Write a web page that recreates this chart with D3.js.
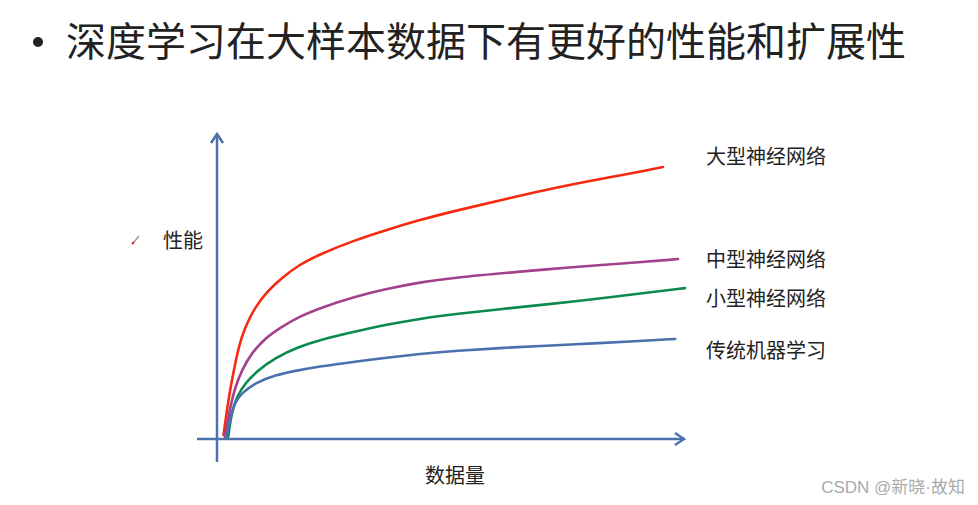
<!DOCTYPE html>
<html>
<head>
<meta charset="utf-8">
<script src="https://cdn.jsdelivr.net/npm/d3@7"></script>
<style>
  html, body { margin: 0; padding: 0; background: #fff; }
  text { font-family: "Noto Sans CJK SC", "Noto Sans", sans-serif; }
</style>
</head>
<body>
<div id="chart"></div>
<script>
// data (x: data amount 0-100, y: performance 0-100)
var seriesNames = ["大型神经网络", "中型神经网络", "小型神经网络", "传统机器学习"];
var seriesColors = ["#f52a10", "#a3418c", "#0a8a4c", "#4a70ad"];
var labelValues = [92.2, 58.5, 45.8, 28.8];

var largeNet = [[1.4, 1.3], [2.4, 12.7], [3.5, 21.6], [4.6, 30.1], [6.0, 36.6], [8.1, 43.1],
  [11.0, 48.7], [13.8, 52.6], [17.4, 56.8], [22.0, 60.4], [29.1, 64.8], [36.3, 68.4],
  [43.4, 71.6], [50.4, 74.4], [62.0, 78.6], [76.1, 83.4], [90.4, 87.3], [95.3, 88.9]];
var mediumNet = [[1.7, 0.7], [2.8, 10.5], [3.9, 17.0], [5.3, 22.5], [7.4, 28.1], [10.3, 33.0],
  [13.8, 36.6], [17.4, 39.9], [22.0, 42.8], [29.1, 46.4], [36.3, 49.1], [43.4, 51.2],
  [50.4, 52.7], [64.7, 54.7], [76.1, 56.2], [90.4, 57.8], [98.5, 58.8]];
var smallNet = [[2.4, 0.7], [3.1, 8.5], [4.2, 13.7], [6.0, 18.3], [8.8, 22.5], [12.4, 26.5],
  [17.4, 30.1], [22.0, 32.4], [29.1, 35.0], [36.3, 37.4], [43.4, 39.3], [50.4, 40.8],
  [64.7, 43.1], [76.1, 44.9], [90.4, 47.5], [100, 49.3]];
var traditionalMl = [[2.1, 0.7], [2.8, 7.2], [3.9, 12.2], [5.3, 15.0], [8.1, 18.3], [12.4, 20.9],
  [17.4, 22.5], [22.0, 23.7], [29.1, 25.2], [36.3, 26.6], [43.4, 27.8], [50.4, 28.8],
  [64.7, 30.1], [76.1, 30.9], [90.4, 32.0], [97.9, 32.7]];

var allSeries = [largeNet, mediumNet, smallNet, traditionalMl];

// svg
var svgWidth = 978;
var svgHeight = 505;

var svg = d3.select("#chart")
  .append("svg")
  .attr("width", svgWidth)
  .attr("height", svgHeight);

// scales (axis origin at 217,439; arrow tips at x=685 and y=133)
var xScale = d3.scaleLinear().domain([0, 100]).range([217, 685]);
var yScale = d3.scaleLinear().domain([0, 100]).range([439, 133]);

var axisColor = "#4a72ad";

// title with bullet
svg.append("circle")
  .attr("cx", 38)
  .attr("cy", 42)
  .attr("r", 5)
  .attr("fill", "#222");

svg.append("text")
  .attr("x", 66)
  .attr("y", 42)
  .attr("dy", "0.36em")
  .attr("font-size", "40px")
  .attr("fill", "#222")
  .text("深度学习在大样本数据下有更好的性能和扩展性");

// curves
var line = d3.line()
  .x(d => xScale(d[0]))
  .y(d => yScale(d[1]))
  .curve(d3.curveBasis);

svg.selectAll(".curve")
  .data(allSeries)
  .enter()
  .append("path")
  .attr("class", "curve")
  .attr("d", d => line(d))
  .attr("fill", "none")
  .attr("stroke", (d, i) => seriesColors[i])
  .attr("stroke-width", 2.6)
  .attr("stroke-linecap", "round");

// axes: plain lines with open arrow heads
svg.append("line")
  .attr("x1", xScale(0)).attr("y1", 462)
  .attr("x2", xScale(0)).attr("y2", yScale(100) + 1)
  .attr("stroke", axisColor).attr("stroke-width", 2.5);

svg.append("path")
  .attr("d", `M${xScale(0) - 6},${yScale(100) + 10} L${xScale(0)},${yScale(100) + 1} L${xScale(0) + 6},${yScale(100) + 10}`)
  .attr("fill", "none").attr("stroke", axisColor).attr("stroke-width", 2.5);

svg.append("line")
  .attr("x1", 197).attr("y1", yScale(0))
  .attr("x2", xScale(100) - 1).attr("y2", yScale(0))
  .attr("stroke", axisColor).attr("stroke-width", 2.5);

svg.append("path")
  .attr("d", `M${xScale(100) - 10},${yScale(0) - 6} L${xScale(100) - 1},${yScale(0)} L${xScale(100) - 10},${yScale(0) + 6}`)
  .attr("fill", "none").attr("stroke", axisColor).attr("stroke-width", 2.5);

// series labels
svg.selectAll(".seriesLabel")
  .data(seriesNames)
  .enter()
  .append("text")
  .attr("class", "seriesLabel")
  .attr("x", 706)
  .attr("y", (d, i) => yScale(labelValues[i]))
  .attr("dy", "0.36em")
  .attr("font-size", "20px")
  .attr("fill", "#222")
  .text(d => d);

// axis titles
svg.append("text")
  .attr("x", 163)
  .attr("y", 241)
  .attr("dy", "0.36em")
  .attr("font-size", "20px")
  .attr("fill", "#222")
  .text("性能");

svg.append("text")
  .attr("x", 425)
  .attr("y", 476)
  .attr("dy", "0.36em")
  .attr("font-size", "20px")
  .attr("fill", "#222")
  .text("数据量");

// little pen cursor next to 性能
svg.append("line")
  .attr("x1", 139).attr("y1", 236).attr("x2", 134).attr("y2", 242)
  .attr("stroke", "#999").attr("stroke-width", 1.5);
svg.append("line")
  .attr("x1", 134).attr("y1", 242).attr("x2", 132).attr("y2", 244)
  .attr("stroke", "#d22").attr("stroke-width", 2);

// watermark
svg.append("text")
  .attr("x", 965)
  .attr("y", 487)
  .attr("dy", "0.36em")
  .attr("text-anchor", "end")
  .attr("font-size", "17px")
  .attr("fill", "#aaa")
  .style("font-family", "'Liberation Sans', 'Noto Sans CJK SC', sans-serif")
  .text("CSDN @新晓·故知");
</script>
</body>
</html>
